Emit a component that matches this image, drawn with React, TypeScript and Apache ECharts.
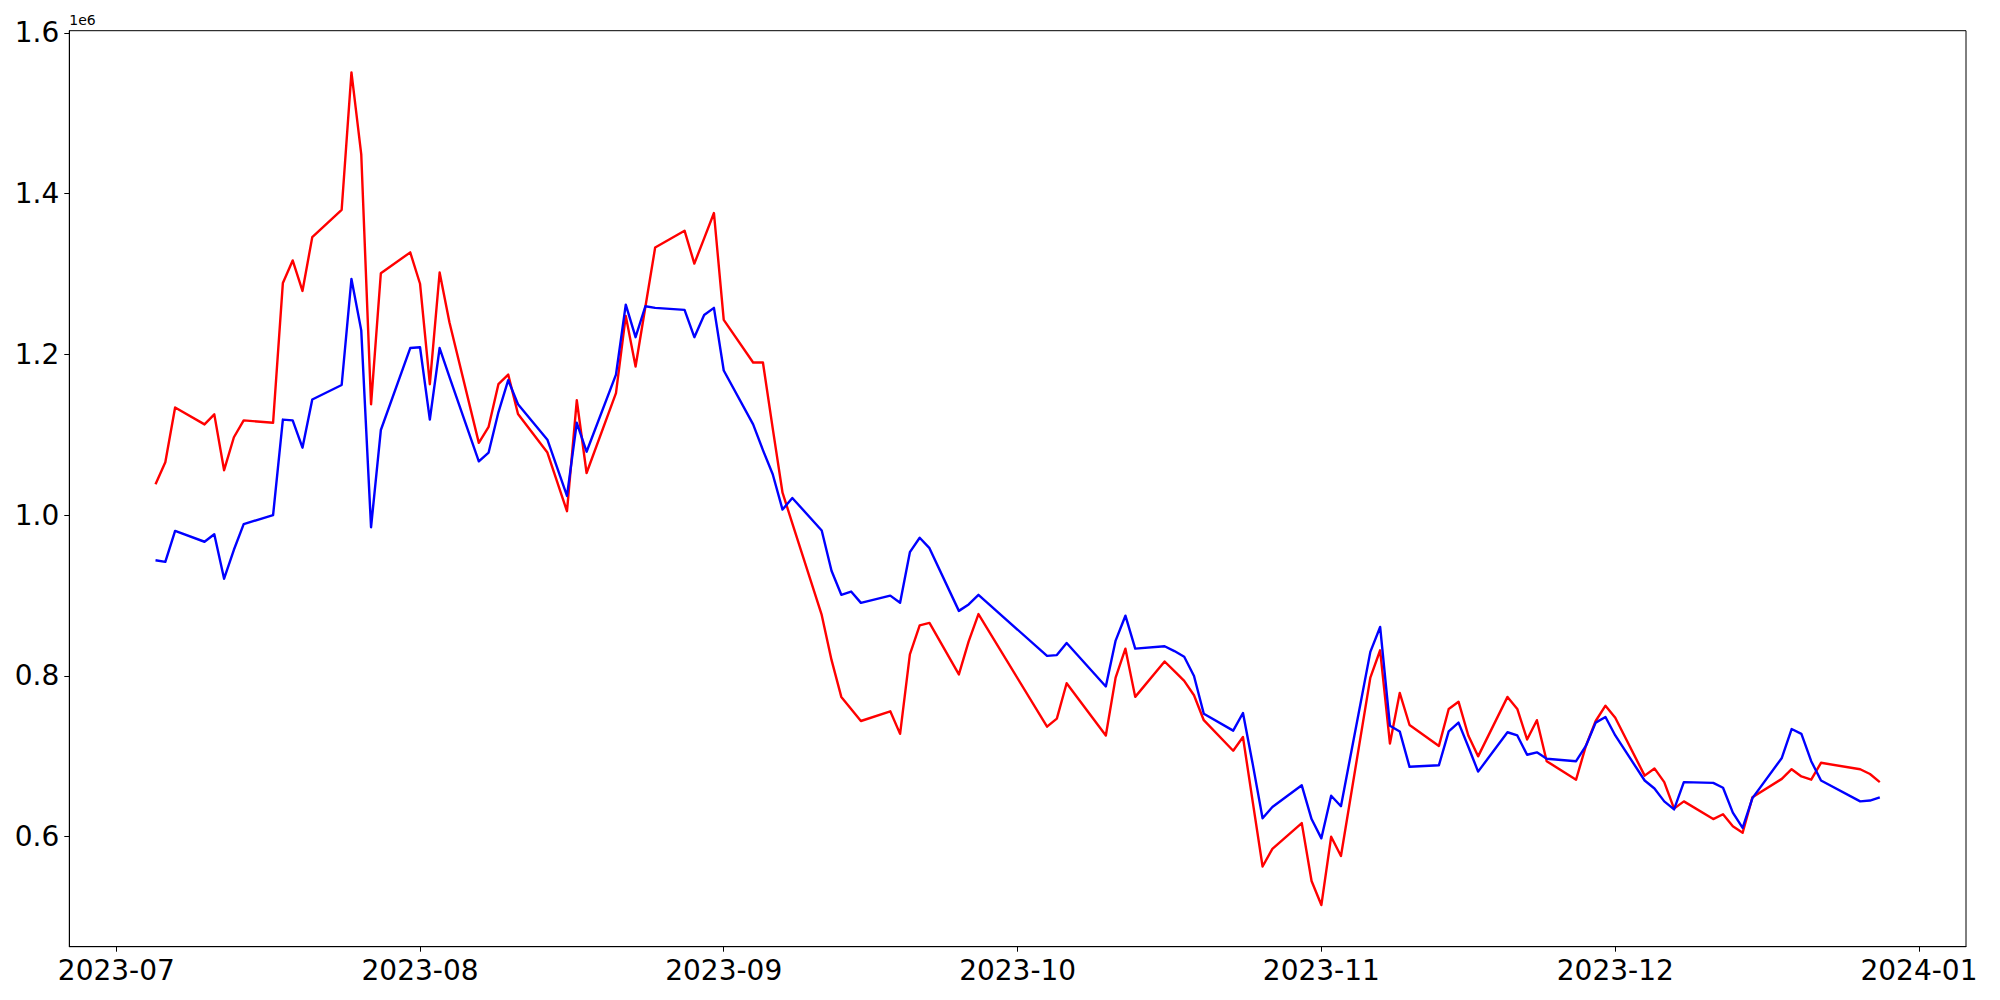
import React, { useEffect, useRef } from "react";
import * as echarts from "echarts";

// Trading days (Korean market calendar) from 2023-07-05 to 2023-12-28
const dates: string[] = [
  "2023-07-05", "2023-07-06", "2023-07-07", "2023-07-10", "2023-07-11", "2023-07-12", "2023-07-13", "2023-07-14",
  "2023-07-17", "2023-07-18", "2023-07-19", "2023-07-20", "2023-07-21", "2023-07-24", "2023-07-25", "2023-07-26",
  "2023-07-27", "2023-07-28", "2023-07-31",
  "2023-08-01", "2023-08-02", "2023-08-03", "2023-08-04", "2023-08-07", "2023-08-08", "2023-08-09", "2023-08-10",
  "2023-08-11", "2023-08-14", "2023-08-16", "2023-08-17", "2023-08-18", "2023-08-21", "2023-08-22", "2023-08-23",
  "2023-08-24", "2023-08-25", "2023-08-28", "2023-08-29", "2023-08-30", "2023-08-31",
  "2023-09-01", "2023-09-04", "2023-09-05", "2023-09-06", "2023-09-07", "2023-09-08", "2023-09-11", "2023-09-12",
  "2023-09-13", "2023-09-14", "2023-09-15", "2023-09-18", "2023-09-19", "2023-09-20", "2023-09-21", "2023-09-22",
  "2023-09-25", "2023-09-26", "2023-09-27",
  "2023-10-04", "2023-10-05", "2023-10-06", "2023-10-10", "2023-10-11", "2023-10-12", "2023-10-13", "2023-10-16",
  "2023-10-17", "2023-10-18", "2023-10-19", "2023-10-20", "2023-10-23", "2023-10-24", "2023-10-25", "2023-10-26",
  "2023-10-27", "2023-10-30", "2023-10-31",
  "2023-11-01", "2023-11-02", "2023-11-03", "2023-11-06", "2023-11-07", "2023-11-08", "2023-11-09", "2023-11-10",
  "2023-11-13", "2023-11-14", "2023-11-15", "2023-11-16", "2023-11-17", "2023-11-20", "2023-11-21", "2023-11-22",
  "2023-11-23", "2023-11-24", "2023-11-27", "2023-11-28", "2023-11-29", "2023-11-30",
  "2023-12-01", "2023-12-04", "2023-12-05", "2023-12-06", "2023-12-07", "2023-12-08", "2023-12-11", "2023-12-12",
  "2023-12-13", "2023-12-14", "2023-12-15", "2023-12-18", "2023-12-19", "2023-12-20", "2023-12-21", "2023-12-22",
  "2023-12-26", "2023-12-27", "2023-12-28",
];

const redValues: number[] = [
  // Jul
  1038500, 1066000, 1134000, 1113000, 1125500, 1056000, 1097000, 1118000, 1115000, 1289000, 1317000, 1279000,
  1346000, 1380000, 1551000, 1449000, 1138000, 1301000, 1327000,
  // Aug
  1288000, 1163000, 1302000, 1240000, 1090000, 1110000, 1163000, 1175000, 1126000, 1078000, 1005000, 1143000,
  1052500, 1152000, 1248000, 1185000, 1259000, 1333000, 1354000, 1313000, 1344500, 1376000,
  // Sep
  1243000, 1190000, 1190000, 1108000, 1028000, 990000, 876000, 820000, 774000, 759000, 744000, 756000, 728000,
  827000, 863000, 866000, 802000, 843000, 877000,
  // Oct
  737000, 747000, 791000, 726000, 798000, 834000, 774000, 818000, 806000, 794000, 776000, 745000, 707000, 724000,
  643000, 563000, 585000, 617000, 545000,
  // Nov
  515000, 600000, 576000, 798000, 832000, 716000, 779000, 739000, 713000, 759000, 768000, 726000, 700000, 774000,
  759000, 721000, 745000, 694000, 671000, 713000, 744000, 763000,
  // Dec
  748000, 676000, 685000, 668000, 635000, 644000, 622000, 628000, 613000, 605000, 649000, 672000, 684000, 675000,
  671000, 692000, 684000, 678000, 668000,
];

const blueValues: number[] = [
  // Jul
  944000, 942000, 980500, 967000, 976400, 921000, 957000, 989000, 1000000, 1119000, 1118000, 1084000, 1144000,
  1162000, 1294000, 1230000, 985000, 1106000, 1208000,
  // Aug
  1209000, 1119000, 1208000, 1172000, 1067000, 1078000, 1128000, 1168000, 1138000, 1094000, 1024000, 1115000,
  1079000, 1175000, 1262000, 1221500, 1260000, 1258000, 1255500, 1221500, 1249000, 1258000,
  // Sep
  1180000, 1113000, 1081000, 1051000, 1007000, 1021500, 981000, 931000, 901000, 905000, 891000, 900000, 891000,
  954000, 972000, 959000, 881000, 889000, 901000,
  // Oct
  825000, 826000, 841000, 787000, 844000, 875000, 834000, 837000, 831000, 824000, 800000, 753000, 732000, 754000,
  690000, 623000, 637000, 664000, 622000,
  // Nov
  598000, 651000, 638000, 830000, 861000, 738000, 731000, 687000, 689000, 731000, 742000, 712000, 681000, 730000,
  726000, 702000, 705000, 697000, 694000, 713000, 742000, 749000,
  // Dec
  726000, 670000, 660000, 644000, 634000, 668000, 667000, 661000, 630000, 611000, 648000, 698000, 734000, 728000,
  694000, 670000, 644000, 645000, 649000,
];

const xTickLabels: string[] = ["2023-07", "2023-08", "2023-09", "2023-10", "2023-11", "2023-12", "2024-01"];
const yTickValues: number[] = [600000, 800000, 1000000, 1200000, 1400000, 1600000];

const FONT = "DejaVu Sans";

export default function App() {
  const ref = useRef<HTMLDivElement>(null);

  useEffect(() => {
    if (!ref.current) return;
    const chart = echarts.init(ref.current, null, { renderer: "svg" });

    const ts = dates.map((d) => Date.parse(d + "T00:00:00Z"));
    const monthTs = xTickLabels.map((m) => Date.parse(m + "-01T00:00:00Z"));
    const xMinData = Math.min(...ts);
    const xMaxData = Math.max(...ts);
    const xPad = (xMaxData - xMinData) * 0.05;
    const allVals = redValues.concat(blueValues);
    const yMinData = Math.min(...allVals);
    const yMaxData = Math.max(...allVals);
    const yPad = (yMaxData - yMinData) * 0.05;

    const pad2 = (n: number) => (n < 10 ? "0" + n : "" + n);
    const fmtMonth = (v: number) => {
      const d = new Date(v);
      return d.getUTCFullYear() + "-" + pad2(d.getUTCMonth() + 1);
    };

    chart.setOption({
      animation: false,
      backgroundColor: "#ffffff",
      grid: {
        left: 69.3,
        right: 34,
        top: 30.7,
        bottom: 53.3,
        show: true,
        borderColor: "#000",
        borderWidth: 1,
        backgroundColor: "transparent",
        containLabel: false,
      },
      xAxis: {
        type: "value",
        min: xMinData - xPad,
        max: xMaxData + xPad,
        splitLine: { show: false },
        axisLine: { show: true, onZero: false, lineStyle: { color: "#000", width: 1 } },
        axisTick: {
          show: true,
          customValues: monthTs,
          length: 5,
          inside: false,
          lineStyle: { color: "#000", width: 1 },
        },
        axisLabel: {
          show: true,
          customValues: monthTs,
          formatter: (v: number) => fmtMonth(v),
          fontSize: 28,
          fontFamily: FONT,
          color: "#000",
          margin: 10,
        },
      },
      yAxis: {
        type: "value",
        min: yMinData - yPad,
        max: yMaxData + yPad,
        name: "1e6",
        nameLocation: "end",
        nameGap: 4,
        nameTextStyle: {
          align: "left",
          verticalAlign: "bottom",
          fontSize: 14,
          fontFamily: FONT,
          color: "#000",
          padding: [0, 0, 0, 0],
        },
        splitLine: { show: false },
        axisLine: { show: true, onZero: false, lineStyle: { color: "#000", width: 1 } },
        axisTick: {
          show: true,
          customValues: yTickValues,
          length: 5,
          lineStyle: { color: "#000", width: 1 },
        },
        axisLabel: {
          show: true,
          customValues: yTickValues,
          formatter: (v: number) => (v / 1e6).toFixed(1),
          fontSize: 28,
          fontFamily: FONT,
          color: "#000",
          margin: 10,
        },
      },
      series: [
        {
          type: "line",
          name: "red",
          data: ts.map((t, i) => [t, redValues[i]]),
          showSymbol: false,
          symbol: "none",
          lineStyle: { color: "#ff0000", width: 2.4, join: "round" },
          itemStyle: { color: "#ff0000" },
          z: 2,
        },
        {
          type: "line",
          name: "blue",
          data: ts.map((t, i) => [t, blueValues[i]]),
          showSymbol: false,
          symbol: "none",
          lineStyle: { color: "#0000ff", width: 2.4, join: "round" },
          itemStyle: { color: "#0000ff" },
          z: 3,
        },
      ],
    });

    return () => {
      chart.dispose();
    };
  }, []);

  return (
    <div
      ref={ref}
      style={{ position: "fixed", left: 0, top: 0, width: 2000, height: 1000, background: "#fff" }}
    />
  );
}
